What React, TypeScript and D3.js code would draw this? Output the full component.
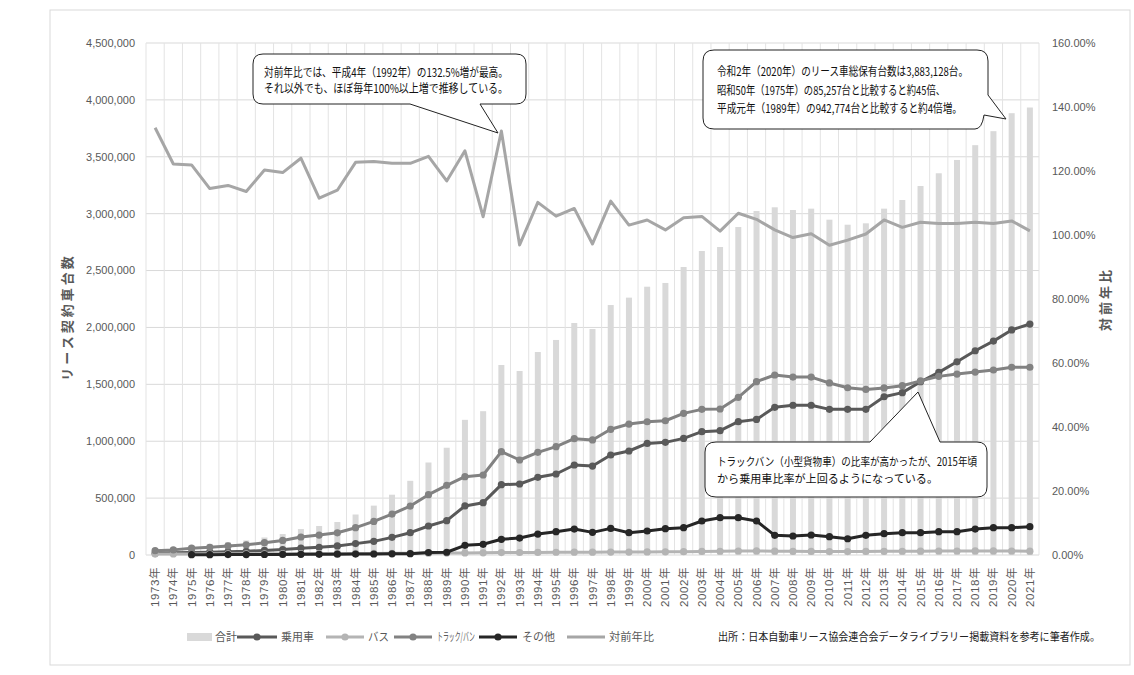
import React from 'react';
import * as d3 from 'd3';

const years = [
  '1973年','1974年','1975年','1976年','1977年','1978年','1979年','1980年','1981年','1982年',
  '1983年','1984年','1985年','1986年','1987年','1988年','1989年','1990年','1991年','1992年',
  '1993年','1994年','1995年','1996年','1997年','1998年','1999年','2000年','2001年','2002年',
  '2003年','2004年','2005年','2006年','2007年','2008年','2009年','2010年','2011年','2012年',
  '2013年','2014年','2015年','2016年','2017年','2018年','2019年','2020年','2021年',
];

// 合計 (bars)
const total = [
  57000, 70000, 85257, 97600, 112700, 128000, 154000, 184000, 228000, 255000,
  290000, 356000, 434000, 530000, 652000, 813000, 942774, 1188000, 1264000, 1670000,
  1617000, 1784000, 1890000, 2039000, 1986000, 2197000, 2262000, 2358000, 2391000, 2531000,
  2672000, 2707000, 2883000, 3023000, 3056000, 3032000, 3044000, 2947000, 2903000, 2915000,
  3044000, 3120000, 3243000, 3355000, 3472000, 3602000, 3725000, 3883128, 3933000,
];

const passenger = [
  16000, 20000, 22000, 25000, 28000, 32000, 40000, 48000, 60000, 68000,
  80000, 100000, 120000, 155000, 196000, 255000, 302000, 431000, 460000, 618000,
  624000, 683000, 712000, 791000, 782000, 879000, 914000, 981000, 990000, 1025000,
  1084000, 1093000, 1172000, 1192000, 1298000, 1316000, 1316000, 1280000, 1280000, 1280000,
  1391000, 1427000, 1523000, 1605000, 1698000, 1795000, 1880000, 1978000, 2030000,
];

const bus = [
  8000, 9000, 9000, 10000, 10000, 11000, 11000, 12000, 12000, 13000,
  13000, 14000, 14000, 15000, 15000, 16000, 17000, 18000, 19000, 21000,
  22000, 23000, 24000, 25000, 25000, 26000, 26000, 27000, 28000, 29000,
  31000, 33000, 35000, 36000, 34000, 32000, 31000, 30000, 30000, 31000,
  32000, 33000, 34000, 35000, 35000, 36000, 36000, 35000, 34000,
];

const truck = [
  38000, 45000, 60000, 68000, 80000, 90000, 108000, 128000, 158000, 175000,
  195000, 240000, 295000, 360000, 430000, 530000, 612000, 688000, 703000, 908000,
  835000, 902000, 952000, 1022000, 1011000, 1105000, 1151000, 1171000, 1180000, 1245000,
  1280000, 1283000, 1386000, 1523000, 1582000, 1564000, 1564000, 1512000, 1470000, 1455000,
  1468000, 1488000, 1530000, 1570000, 1590000, 1608000, 1626000, 1650000, 1650000,
];

const other = [
  null, null, 3000, 3000, 3500, 4000, 4500, 5000, 5500, 6000,
  7000, 8000, 9000, 10000, 12000, 22000, 24000, 85000, 94000, 138000,
  149000, 184000, 205000, 228000, 199000, 234000, 196000, 211000, 231000, 240000,
  299000, 328000, 328000, 299000, 173000, 167000, 176000, 161000, 143000, 173000,
  187000, 196000, 196000, 205000, 205000, 228000, 240000, 240000, 249000,
];

// 対前年比 (%)
const ratio = [
  133.5, 122.2, 121.9, 114.5, 115.5, 113.6, 120.3, 119.5, 124.0, 111.5,
  114.0, 122.7, 123.0, 122.4, 122.4, 124.6, 116.9, 126.3, 105.7, 132.5,
  96.9, 110.2, 105.9, 108.3, 97.2, 110.6, 103.1, 104.7, 101.6, 105.4,
  105.8, 101.2, 106.8, 104.9, 101.6, 99.2, 100.4, 96.8, 98.4, 100.3,
  104.7, 102.4, 104.0, 103.6, 103.6, 104.0, 103.6, 104.4, 101.3,
];

const leftTicks = [0, 500000, 1000000, 1500000, 2000000, 2500000, 3000000, 3500000, 4000000, 4500000];
const rightTicks = [0, 20, 40, 60, 80, 100, 120, 140, 160];

const lineSeries = [
  { name: '乗用車', values: passenger, color: '#595959' },
  { name: 'バス', values: bus, color: '#b4b4b4' },
  { name: 'トラック/バン', values: truck, color: '#828282' },
  { name: 'その他', values: other, color: '#262626' },
];

const W = 1134, H = 675;
const plot = { left: 146, right: 1039, top: 43, bottom: 555 };
const tickFont = "'Liberation Sans', 'Noto Sans CJK JP', sans-serif";
const jpFont = "'Noto Sans CJK JP', sans-serif";

export default function App() {
  const x = d3.scaleBand<string>().domain(years).range([plot.left, plot.right]).padding(0);
  const y = d3.scaleLinear().domain([0, 4500000]).range([plot.bottom, plot.top]);
  const y2 = d3.scaleLinear().domain([0, 160]).range([plot.bottom, plot.top]);
  const bw = x.bandwidth();
  const cx = (i: number) => (x(years[i]) as number) + bw / 2;
  const fmt = d3.format(',');

  const line = d3.line<number | null>()
    .defined(d => d != null)
    .x((_, i) => cx(i))
    .y(d => y(d as number));
  const ratioLine = d3.line<number>().x((_, i) => cx(i)).y(d => y2(d));

  const legendY = 637;
  const legend = [
    { name: '乗用車', color: '#595959', x0: 237, x1: 277, tx: 281, tw: 33, marker: true },
    { name: 'バス', color: '#b4b4b4', x0: 326, x1: 364, tx: 368, tw: 21, marker: true },
    { name: 'トラック/バン', color: '#828282', x0: 394, x1: 432, tx: 437, tw: 38, marker: true },
    { name: 'その他', color: '#262626', x0: 479, x1: 517, tx: 522, tw: 33, marker: true },
    { name: '対前年比', color: '#a6a6a6', x0: 567, x1: 605, tx: 609, tw: 45, marker: false },
  ];

  return (
    <svg width={W} height={H} style={{ position: 'absolute', left: 0, top: 0, background: '#fff' }}>
      <rect x={50} y={10} width={1080} height={655} fill="#fff" stroke="#d9d9d9" />

      {/* grid */}
      {leftTicks.map(t => (
        <line key={'h' + t} x1={plot.left} x2={plot.right} y1={y(t)} y2={y(t)} stroke="#d9d9d9" />
      ))}
      {years.map(yr => (
        <line key={'v' + yr} x1={x(yr)} x2={x(yr)} y1={plot.top} y2={plot.bottom} stroke="#e3e3e3" />
      ))}
      <line x1={plot.right} x2={plot.right} y1={plot.top} y2={plot.bottom} stroke="#e3e3e3" />

      {/* bars */}
      {total.map((v, i) => (
        <rect key={'b' + i} x={cx(i) - 3} y={y(v)} width={6} height={plot.bottom - y(v)} fill="#d9d9d9" />
      ))}

      {/* series lines */}
      {lineSeries.map(s => (
        <g key={s.name}>
          <path d={line(s.values) as string} fill="none" stroke={s.color} strokeWidth={3} strokeLinejoin="round" />
          {s.values.map((v, i) => v == null ? null : (
            <circle key={i} cx={cx(i)} cy={y(v)} r={3.6} fill={s.color} />
          ))}
        </g>
      ))}
      <path d={ratioLine(ratio) as string} fill="none" stroke="#a6a6a6" strokeWidth={3} strokeLinejoin="round" />

      {/* left axis */}
      {leftTicks.map(t => (
        <text key={'lt' + t} x={135} y={y(t)} dy="0.35em" textAnchor="end" fontSize={11} fill="#595959" fontFamily={tickFont}>
          {fmt(t)}
        </text>
      ))}
      {/* right axis */}
      {rightTicks.map(t => (
        <text key={'rt' + t} x={1052} y={y2(t)} dy="0.35em" textAnchor="start" fontSize={11} fill="#595959" fontFamily={tickFont}>
          {t.toFixed(2) + '%'}
        </text>
      ))}
      {/* x labels */}
      {years.map((yr, i) => (
        <text key={'xl' + yr} transform={`translate(${cx(i) + 4},567) rotate(-90)`} textAnchor="end" fontSize={11.5}
          fill="#595959" fontFamily={tickFont} letterSpacing={0.6}>
          {yr}
        </text>
      ))}

      {/* axis titles */}
      <text transform="translate(72,317) rotate(-90)" textAnchor="middle" fontSize={13} fontWeight="bold" fill="#595959"
        fontFamily={jpFont} letterSpacing={3}>リース契約車台数</text>
      <text transform="translate(1110,299) rotate(-90)" textAnchor="middle" fontSize={13} fontWeight="bold" fill="#595959"
        fontFamily={jpFont} letterSpacing={3}>対前年比</text>

      {/* legend */}
      <rect x={187} y={legendY - 4} width={25} height={8} fill="#d9d9d9" />
      <text x={215} y={legendY} dy="0.35em" fontSize={11.5} fill="#595959" fontFamily={jpFont} textLength={22}
        lengthAdjust="spacingAndGlyphs">合計</text>
      {legend.map(l => (
        <g key={'lg' + l.name}>
          <line x1={l.x0} x2={l.x1} y1={legendY} y2={legendY} stroke={l.color} strokeWidth={3} />
          {l.marker && <circle cx={(l.x0 + l.x1) / 2} cy={legendY} r={3.6} fill={l.color} />}
          <text x={l.tx} y={legendY} dy="0.35em" fontSize={11.5} fill="#595959" fontFamily={jpFont} textLength={l.tw}
            lengthAdjust="spacingAndGlyphs">{l.name}</text>
        </g>
      ))}
      <text x={718} y={legendY} dy="0.35em" fontSize={11} fill="#222" fontFamily={jpFont} textLength={382}
        lengthAdjust="spacingAndGlyphs">出所：日本自動車リース協会連合会データライブラリー掲載資料を参考に筆者作成。</text>

      {/* callout 1 */}
      <path d="M263,54 H516 Q526,54 526,64 V94 Q526,104 516,104 H480 L498,133 L410,104 H263 Q253,104 253,94 V64 Q253,54 263,54 Z"
        fill="#fff" stroke="#222" strokeWidth={1} />
      <text x={264} y={77} fontSize={12} fill="#111" fontFamily={jpFont} textLength={244} lengthAdjust="spacingAndGlyphs">
        対前年比では、平成4年（1992年）の132.5%増が最高。</text>
      <text x={264} y={93} fontSize={12} fill="#111" fontFamily={jpFont} textLength={244} lengthAdjust="spacingAndGlyphs">
        それ以外でも、ほぼ毎年100%以上増で推移している。</text>

      {/* callout 2 */}
      <path d="M714,50 H977 Q988,50 988,61 V95 L1006,119 L984,115 Q982,129 975,129 H714 Q703,129 703,118 V61 Q703,50 714,50 Z"
        fill="#fff" stroke="#222" strokeWidth={1} />
      <text x={717} y={76} fontSize={12} fill="#111" fontFamily={jpFont} textLength={251} lengthAdjust="spacingAndGlyphs">
        令和2年（2020年）のリース車総保有台数は3,883,128台。</text>
      <text x={717} y={95} fontSize={12} fill="#111" fontFamily={jpFont} textLength={228} lengthAdjust="spacingAndGlyphs">
        昭和50年（1975年）の85,257台と比較すると約45倍、</text>
      <text x={717} y={113} fontSize={12} fill="#111" fontFamily={jpFont} textLength={245} lengthAdjust="spacingAndGlyphs">
        平成元年（1989年）の942,774台と比較すると約4倍増。</text>

      {/* callout 3 */}
      <path d="M716,442 H870 L918,392 L940,442 H977 Q987,442 987,452 V487 Q987,497 977,497 H716 Q705,497 705,487 V452 Q705,442 716,442 Z"
        fill="#fff" stroke="#222" strokeWidth={1} />
      <text x={717} y={466} fontSize={11.5} fill="#111" fontFamily={jpFont} textLength={260} lengthAdjust="spacingAndGlyphs">
        トラックバン（小型貨物車）の比率が高かったが、2015年頃</text>
      <text x={717} y={483} fontSize={11.5} fill="#111" fontFamily={jpFont} textLength={221} lengthAdjust="spacingAndGlyphs">
        から乗用車比率が上回るようになっている。</text>
    </svg>
  );
}
